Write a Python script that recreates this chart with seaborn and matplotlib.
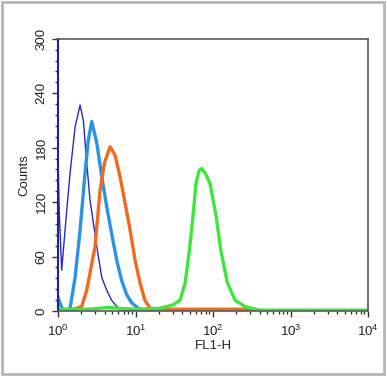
import numpy as np
import pandas as pd
import seaborn as sns
import matplotlib
matplotlib.use("Agg")
import matplotlib.pyplot as plt
from matplotlib.ticker import MultipleLocator, LogLocator, NullFormatter
from matplotlib.patches import Rectangle

# Histogram traces: log10(FL1-H) position and counts
navy_log = [0.0, 0.015, 0.047, 0.09, 0.155, 0.22, 0.284, 0.327, 0.37, 0.413, 0.456,
            0.5, 0.564, 0.628, 0.69, 0.77, 0.84, 0.95, 1.2, 4.0]
navy_counts = [170, 110, 45, 89, 152, 203, 227, 210, 163, 122, 97,
               71, 37, 23, 12, 4, 1, 0, 0, 0]

blue_log = [0.0, 0.05, 0.1, 0.155, 0.22, 0.284, 0.348, 0.39, 0.435, 0.5, 0.564, 0.628,
            0.69, 0.757, 0.82, 0.886, 0.95, 1.036, 1.12, 1.3, 4.0]
blue_counts = [15, 3, 1, 3, 37, 89, 152, 188, 209, 185, 148, 115,
               86, 56, 34, 18, 9, 3, 1, 0, 0]

orange_log = [0.0, 0.2, 0.305, 0.37, 0.477, 0.542, 0.598, 0.671, 0.735, 0.8, 0.865,
              0.93, 0.994, 1.058, 1.12, 1.187, 1.3, 1.8, 2.4, 2.5, 4.0]
orange_counts = [1, 2, 5, 23, 71, 133, 163, 181, 172, 148, 119,
                 89, 56, 31, 12, 3, 2, 2, 2, 0, 0]

green_log = [0.0, 0.4, 0.65, 0.8, 1.0, 1.316, 1.49, 1.574, 1.64, 1.695, 1.74, 1.78,
             1.82, 1.854, 1.9, 1.96, 2.04, 2.10, 2.185, 2.284, 2.41, 2.6, 4.0]
green_counts = [2, 2, 4, 3, 2, 3, 7, 12, 31, 67, 104, 141,
                155, 157, 152, 141, 104, 67, 31, 12, 5, 1, 1]

series = [
    (navy_log, navy_counts, "#2a2ab8", 1.0),
    (blue_log, blue_counts, "#2b93e6", 2.4),
    (orange_log, orange_counts, "#f26a1e", 2.4),
    (green_log, green_counts, "#3ce83c", 2.4),
]

sns.set_style("ticks")
plt.rcParams["font.family"] = ["Liberation Sans", "DejaVu Sans"]
plt.rcParams["mathtext.fontset"] = "custom"
plt.rcParams["mathtext.rm"] = "Liberation Sans"

fig = plt.figure(figsize=(3.87, 3.77), dpi=100)
ax = fig.add_axes([0.150, 0.175, 0.801, 0.722])

for logs, counts, color, lw in series:
    sns.lineplot(x=10 ** np.array(logs), y=counts, color=color, linewidth=lw,
                 sort=False, ax=ax)

ax.set_xscale("log")
ax.set_xlim(1, 1e4)
ax.set_ylim(0, 300)

ax.yaxis.set_major_locator(MultipleLocator(60))
ax.yaxis.set_minor_locator(MultipleLocator(12))
ax.xaxis.set_major_locator(LogLocator(base=10, numticks=10))
ax.xaxis.set_minor_locator(LogLocator(base=10, subs=np.arange(2, 10), numticks=10))
ax.xaxis.set_minor_formatter(NullFormatter())

ax.tick_params(axis="both", which="major", direction="out", length=4, width=1,
               labelsize=9.5, colors="#333333", labelcolor="#222222")
ax.tick_params(axis="x", which="major", pad=5)
ax.tick_params(axis="both", which="minor", direction="out", length=2.5, width=1,
               colors="#333333")
for lab in ax.get_yticklabels():
    lab.set_rotation(90)
    lab.set_va("center")

ax.set_xlabel("FL1-H", fontsize=9.5, color="#222222", labelpad=1)
ax.set_ylabel("Counts", fontsize=9.5, color="#222222", labelpad=4)

for side in ["top", "right", "bottom"]:
    ax.spines[side].set_color("#5a5a5a")
    ax.spines[side].set_linewidth(1.2)
ax.spines["left"].set_color("#2020a0")
ax.spines["left"].set_linewidth(1.5)

fig.patches.append(Rectangle((0.005, 0.008), 0.988, 0.987, transform=fig.transFigure,
                             fill=False, edgecolor="#b5b5b5", linewidth=2))

fig.savefig("out.png", dpi=100)
